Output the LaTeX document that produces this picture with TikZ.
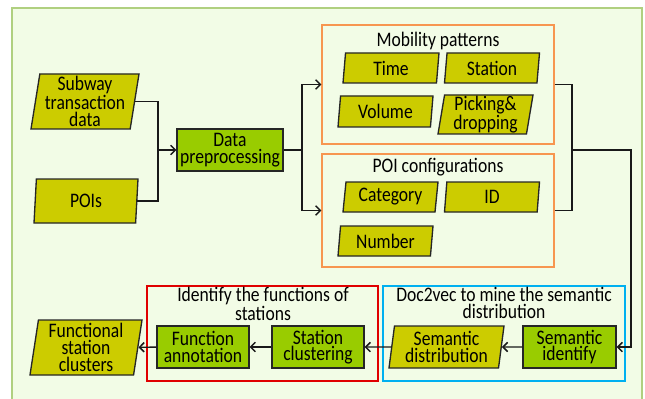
\documentclass[tikz,border=0pt]{standalone}
\usepackage{fontspec}
\setmainfont[FakeStretch=0.85]{Carlito}
\usetikzlibrary{arrows.meta}
\usetikzlibrary{positioning}
\usetikzlibrary{shapes.geometric}
\definecolor{bgtop}{RGB}{242,252,230}
\definecolor{bgmid}{RGB}{226,247,200}
\definecolor{bgedge}{RGB}{176,208,128}
\definecolor{datafill}{RGB}{204,204,0}
\definecolor{procfill}{RGB}{153,204,0}
\definecolor{mobedge}{RGB}{247,150,80}
\definecolor{identedge}{RGB}{224,0,0}
\definecolor{docedge}{RGB}{0,176,240}
\tikzset{
  every node/.style={font=\fontsize{15.5}{12.5}\selectfont, align=center},
  datashape/.style={
    trapezium, trapezium left angle=80, trapezium right angle=100,
    trapezium stretches body, draw=black!85, line width=1pt,
    fill=datafill, inner sep=0pt
  },
  procbox/.style={
    rectangle, draw=black!85, line width=1pt, fill=procfill, inner sep=0pt
  },
  groupbox/.style={rectangle, line width=1pt, inner sep=0pt},
  arrow/.style={->,>={Straight Barb[length=3.5pt,width=7pt]}, line width=1.1pt, black!90},
  link/.style={line width=1.1pt, black!90}
}
\begin{document}
\begin{tikzpicture}[x=0.75pt,y=-0.75pt]
\useasboundingbox (0,0) rectangle (645,399);
\shadedraw[top color=bgtop, middle color=bgmid, bottom color=bgtop, draw=bgedge, line width=1pt]
  (12,8) rectangle (642,412);

\node[groupbox, draw=mobedge, minimum width=174pt, minimum height=89.25pt] (mob) at (438,84.5) {};
\node[groupbox, draw=mobedge, minimum width=174pt, minimum height=84.75pt] (poi) at (438,210.5) {};
\node[groupbox, draw=identedge, minimum width=173.25pt, minimum height=71.25pt] (ident) at (262.5,333.5) {};
\node[groupbox, draw=docedge, minimum width=181.5pt, minimum height=71.25pt] (doc) at (504,333.5) {};

\node (mobtitle) at (438,41) {Mobility patterns};
\node (poititle) at (438,167) {POI configurations};
\node (identtitle) at (263,304) {Identify the functions of\\stations};
\node (doctitle) at (504,303) {Doc2vec to mine the semantic\\distribution};

\node[datashape, minimum width=81pt, minimum height=41.25pt] (subway) at (85,101.5) {Subway\\transaction\\data};
\node[datashape, minimum width=78pt, minimum height=33pt] (pois) at (86,201) {POIs};
\node[procbox, minimum width=79.5pt, minimum height=31.5pt] (prep) at (230,150) {Data\\preprocessing};

\node[datashape, minimum width=72pt, minimum height=22.5pt] (time) at (391,68) {Time};
\node[datashape, minimum width=71.25pt, minimum height=22.5pt] (station) at (492,68) {Station};
\node[datashape, minimum width=71.25pt, minimum height=23.25pt] (volume) at (385.5,111.5) {Volume};
\node[datashape, minimum width=71.25pt, minimum height=29.25pt] (picking) at (485.5,114.5) {Picking\&\\dropping};

\node[datashape, minimum width=71.25pt, minimum height=22.5pt] (category) at (390.5,197) {Category};
\node[datashape, minimum width=71.25pt, minimum height=22.5pt] (poiid) at (492,197) {ID};
\node[datashape, minimum width=71.25pt, minimum height=22.5pt] (number) at (385.5,241) {Number};

\node[procbox, minimum width=69.75pt, minimum height=31.5pt] (semid) at (569.5,347) {Semantic\\identify};
\node[datashape, minimum width=86.25pt, minimum height=31.5pt] (semdist) at (446.5,347) {Semantic\\distribution};
\node[procbox, minimum width=69pt, minimum height=31.5pt] (stclu) at (318,347) {Station\\clustering};
\node[procbox, minimum width=69pt, minimum height=31.5pt] (funann) at (203,347) {Function\\annotation};
\node[datashape, minimum width=84pt, minimum height=41.25pt] (funclu) at (86,347.5) {Functional\\station\\clusters};

\coordinate (inmerge) at (158,150);
\coordinate (split) at (302,150);
\coordinate (outmerge) at (572,150);
\coordinate (rightturn) at (631,150);

\draw[link] (subway.east) -| (inmerge);
\draw[link] (pois.east) -| (inmerge);
\draw[arrow] (inmerge) -- (prep.west);
\draw[link] (prep.east) -- (split);
\draw[arrow] (split) |- (mob.west);
\draw[arrow] (split) |- (poi.west);
\draw[link] (mob.east) -| (outmerge);
\draw[link] (poi.east) -| (outmerge);
\draw[arrow] (outmerge) -- (rightturn) |- (semid.east);
\draw[arrow] (semid) -- (semdist);
\draw[arrow] (semdist) -- (stclu);
\draw[arrow] (stclu) -- (funann);
\draw[arrow] (funann) -- (funclu);
\end{tikzpicture}
\end{document}
